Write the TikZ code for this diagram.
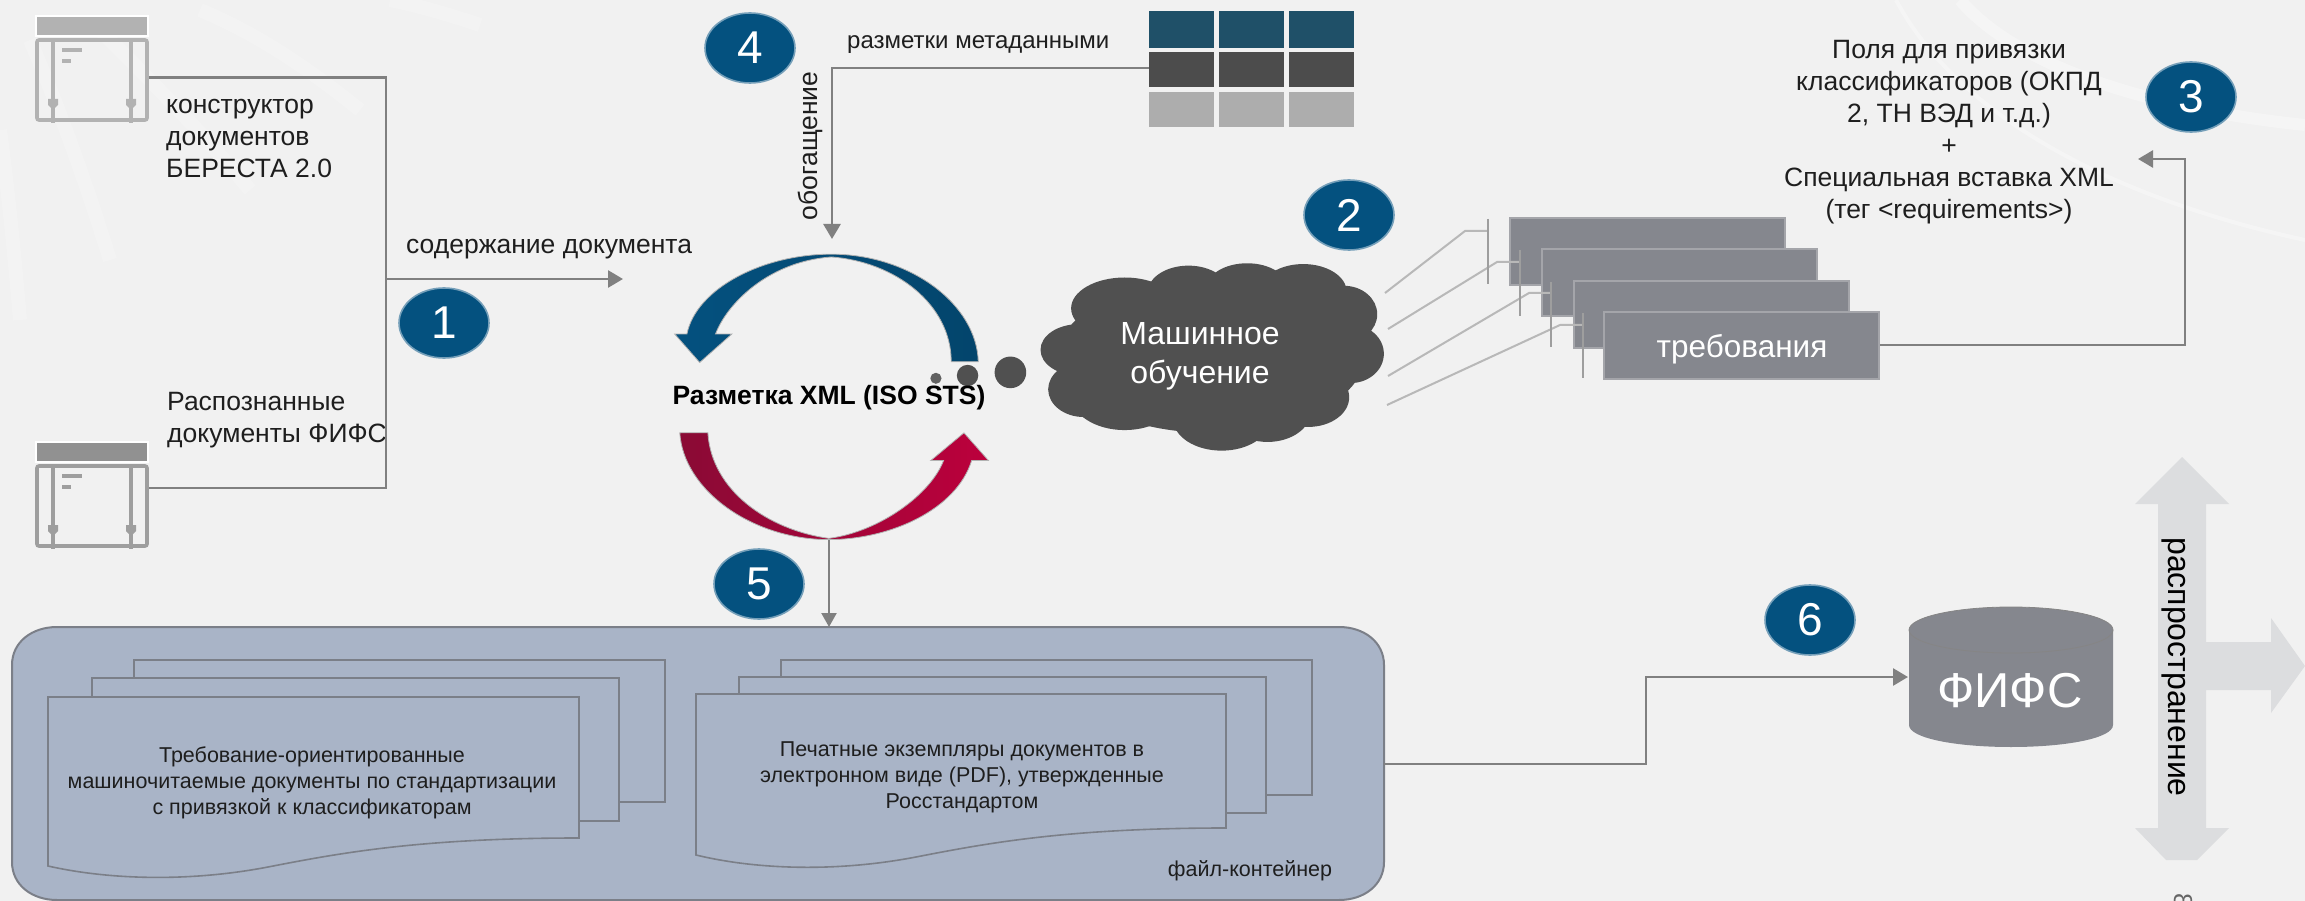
\documentclass[tikz,border=0pt]{standalone}
\usepackage{fontspec}
\setmainfont{Liberation Sans}
\usetikzlibrary{arrows.meta,shapes.geometric}
\definecolor{bgc}{HTML}{F1F1F1}
\definecolor{conn}{HTML}{808080}
\definecolor{badge}{HTML}{04517F}
\definecolor{cloudc}{HTML}{505050}
\definecolor{slate}{HTML}{85878E}
\definecolor{cont}{HTML}{A9B4C7}
\definecolor{contl}{HTML}{7B7F88}
\definecolor{pale}{HTML}{DCDDDF}
\definecolor{inkc}{HTML}{1E1E1E}
\tikzset{
 x=1pt,y=-1pt,
 connline/.style={draw=conn,line width=2.7pt,line join=miter},
 connarrow/.style={connline,-{Triangle[length=15pt,width=17pt]}},
 thinarrow/.style={draw=conn,line width=2.2pt,-{Triangle[length=14pt,width=15pt]}},
 badgenode/.style={ellipse,inner sep=0pt,minimum width=90pt,minimum height=70pt,fill=badge,draw=badge!55!white,line width=1.6pt,text=white,font=\fontsize{46}{50}\selectfont},
 lbl/.style={inner sep=0pt,text=inkc,font=\fontsize{26.5}{32}\selectfont},
 doclbl/.style={inner sep=0pt,text=inkc,align=center,font=\fontsize{21.5}{26}\selectfont},
 whitelbl/.style={inner sep=0pt,text=white,align=center},
 tcell/.style={inner sep=0pt,minimum width=65pt},
 slab/.style={inner sep=0pt,minimum width=275pt,minimum height=67pt,fill=slate,draw=slate!75!white,line width=2pt},
 iconhead/.style={inner sep=0pt,minimum width=112pt,minimum height=20pt,draw=white,line width=1.5pt},
 iconbody/.style={inner sep=0pt,minimum width=110pt,minimum height=80pt,draw,line width=3.6pt,rounded corners=2pt},
 docsheet/.style={fill=cont,draw=contl,line width=1.6pt},
 feeder/.style={draw=black!28,line width=2pt},
 tick/.style={draw=black!38,line width=1.6pt},
 faint/.style={draw=white,opacity=.16},
}
\begin{document}
\begin{tikzpicture}
\useasboundingbox (0,0) rectangle (2305,901);
\clip (0,0) rectangle (2305,901);
\fill[bgc] (0,0) rectangle (2305,901);
% faint background streaks
\draw[faint,line width=14pt] (20,320) .. controls (14,250) and (8,190) .. (0,130);
\draw[faint,line width=14pt] (110,260) .. controls (85,180) and (60,110) .. (30,40);
\draw[faint,line width=14pt] (250,190) .. controls (200,130) and (150,80) .. (100,30);
\draw[faint,line width=14pt] (360,110) .. controls (310,70) and (260,35) .. (200,10);
\draw[faint,line width=14pt] (480,25) .. controls (450,15) and (420,6) .. (390,0);
\draw[faint,line width=4pt,opacity=.3] (1896,0) .. controls (1960,120) and (2120,200) .. (2305,240);
\draw[faint,line width=12pt,opacity=.3] (1960,0) .. controls (2020,70) and (2160,110) .. (2305,125);

% source icons
\node[iconhead,fill=black!30] (h1) at (92,26) {};
\node[iconbody,draw=black!30] (icon1) at (92,80) {};
\node[iconhead,fill=black!43] (h2) at (92,452) {};
\node[iconbody,draw=black!38] (icon2) at (92,506) {};
\foreach \n/\c/\t in {icon1/black!30/103,icon2/black!38/529}{
  \begin{scope}[shift={(0,\t)}]
  \fill[\c] (51,-64) rectangle (55,20);
  \fill[\c] (129,-64) rectangle (133,20);
  \fill[\c] (48,-4) -- (58,-4) -- (58,2) -- (53,7) -- (48,2) -- cycle;
  \fill[\c] (126,-4) -- (136,-4) -- (136,2) -- (131,7) -- (126,2) -- cycle;
  \fill[\c] (62,-55) rectangle (82,-51);
  \fill[\c] (62,-44) rectangle (71,-40);
  \end{scope}
}
\node[lbl,anchor=west,align=left] (ctor) at (166,139) {конструктор\\документов\\БЕРЕСТА 2.0};
\node[lbl,anchor=west,align=left] (rec) at (167,420) {Распознанные\\документы ФИФС};
\node[lbl,anchor=west] (cont1) at (406,249) {содержание документа};
\coordinate (j1) at (386,77.5);
\coordinate (j2) at (386,488);
\coordinate (j3) at (386,279);
\coordinate (a1) at (623,279);
\draw[connline] (icon1.east |- j1) -- (j1) -- (j2) -- (icon2.east |- j2);
\draw[connarrow] (j3) -- (a1);
\node[badgenode] (b1) at (444,323) {1};

% metadata table
\foreach \r/\y/\h/\c in {1/29.5/37/1F5068,2/69.5/35/4C4C4C,3/109.5/35/ADADAD}{
  \definecolor{cellc}{HTML}{\c}
  \node[tcell,fill=cellc,minimum height=\h pt] (t\r1) at (1181.5,\y) {};
  \node[tcell,fill=cellc,minimum height=\h pt] (t\r2) at (1251.5,\y) {};
  \node[tcell,fill=cellc,minimum height=\h pt] (t\r3) at (1321,\y) {};
}
\node[lbl,anchor=west,font=\fontsize{24}{28}\selectfont] (meta) at (847,45) {разметки метаданными};
\coordinate (m1) at (832,68);
\coordinate (m2) at (832,239);
\draw[connarrow] (t21.west |- m1) -- (m1) -- (m2);
\node[lbl,rotate=90] (enrich) at (810,146) {обогащение};
\node[badgenode] (b4) at (750,48) {4};

% cycle arrows
\begin{scope}[shift={(640,0)},xscale=.5102,yscale=.3953]
\shade[left color=badge,middle color=black!15!badge!90!white,right color=badge!85!black,draw=black!30,line width=.8pt]
 (663,915) .. controls (660,770) and (530,643) .. (375,643) .. controls (240,643) and (110,730) .. (92,845)
 -- (68,845) -- (117,917) -- (180,845) -- (148,845) .. controls (170,770) and (250,662) .. (375,650)
 .. controls (500,662) and (610,770) .. (610,915) -- cycle;
\definecolor{redl}{HTML}{8A0A35}
\definecolor{redr}{HTML}{BC003C}
\shade[left color=redl,middle color=redl!85!black!70!white,right color=redr,draw=black!30,line width=.8pt]
 (78,1095) .. controls (85,1240) and (220,1365) .. (370,1365) .. controls (490,1365) and (620,1290) .. (650,1165)
 -- (683,1165) -- (635,1095) -- (570,1165) -- (595,1165) .. controls (570,1250) and (470,1345) .. (370,1362)
 .. controls (250,1340) and (140,1240) .. (133,1095) -- cycle;
% cloud
\fill[cloudc] (1120,900) ellipse [x radius=300,y radius=195];
\foreach \cx/\cy/\rx/\ry in {860/885/75/65,870/985/70/70,950/780/105/78,1075/740/80/68,1190/730/80/64,1300/738/85/70,1380/795/65/72,1393/895/65/74,1310/1005/80/75,1140/1060/95/80,950/1000/105/88,1230/1040/85/78}
  \fill[cloudc] (\cx,\cy) ellipse [x radius=\rx,y radius=\ry];
% thought dots
\fill[cloudc!90!white] (580,957) ellipse [x radius=11,y radius=14];
\fill[cloudc] (642,950) ellipse [x radius=21,y radius=27];
\fill[cloudc] (726,942) ellipse [x radius=31,y radius=40];
\end{scope}
\node[lbl,text=black,font=\fontsize{26.5}{30}\selectfont\bfseries] (xml) at (829,398) {Разметка XML (ISO STS)};
\node[whitelbl,font=\fontsize{32}{39}\selectfont] (ml) at (1200,356) {Машинное\\обучение};
\node[badgenode] (b2) at (1349,215) {2};

% requirement slabs
\coordinate (f1a) at (1385,293); \coordinate (f1b) at (1465,231); \coordinate (f1c) at (1488,231);
\coordinate (f2a) at (1388,329); \coordinate (f2b) at (1497,262); \coordinate (f2c) at (1520,262);
\coordinate (f3a) at (1388,376); \coordinate (f3b) at (1529,293); \coordinate (f3c) at (1551,293);
\coordinate (f4a) at (1387,405); \coordinate (f4b) at (1560,325); \coordinate (f4c) at (1583,325);
\node[slab] (s1) at (1647.5,251.5) {};
\node[slab] (s2) at (1679.5,282.5) {};
\node[slab] (s3) at (1711,314.5) {};
\node[slab] (s4) at (1741.5,345.5) {};
\foreach \i in {1,2,3,4} \draw[feeder] (f\i a) -- (f\i b) -- (f\i c);
\draw[tick] (1488,219) -- (1488,284);
\draw[tick] (1520,250) -- (1520,316);
\draw[tick] (1551,282) -- (1551,347);
\draw[tick] (1583,313) -- (1583,378);
\node[whitelbl,font=\fontsize{31.5}{36}\selectfont] (req) at (1742,349) {требования};
\node[lbl,align=center] (fields) at (1949,132) {Поля для привязки\\классификаторов (ОКПД\\2, ТН ВЭД и т.д.)\\+\\Специальная вставка XML\\(тег <requirements>)};
\coordinate (r1) at (2185,345);
\coordinate (r2) at (2185,159);
\coordinate (r3) at (2138,159);
\draw[connarrow] (s4.east |- r1) -- (r1) -- (r2) -- (r3);
\node[badgenode] (b3) at (2191,97) {3};

% file container
\draw[fill=cont,draw=contl,line width=2pt] (12,665) .. controls (12,642) and (32,627) .. (57,627) -- (1339,627)
  .. controls (1364,627) and (1384,642) .. (1384,665) -- (1384,862) .. controls (1384,885) and (1364,900) .. (1339,900)
  -- (57,900) .. controls (32,900) and (12,885) .. (12,862) -- cycle;
\coordinate (contT) at (829,627);
\coordinate (contE) at (1384,764);
\coordinate (cyc) at (829,540);
\draw[thinarrow] (cyc) -- (contT);
\node[badgenode] (b5) at (759,584) {5};
% left stack
\draw[docsheet] (134,660) rectangle (665,802);
\draw[docsheet] (92,678) rectangle (619,821);
\draw[docsheet] (48,697) -- (579,697) -- (579,838) .. controls (420,838) and (340,853) .. (268,867) .. controls (190,882) and (110,880) .. (48,866) -- cycle;
% right stack
\draw[docsheet] (781,660) rectangle (1312,795);
\draw[docsheet] (739,677) rectangle (1266,813);
\draw[docsheet] (696,694) -- (1226,694) -- (1226,828) .. controls (1068,828) and (988,843) .. (916,857) .. controls (838,872) and (758,870) .. (696,855) -- cycle;
\node[doclbl] (d1) at (312,783) {Требование-ориентированные\\машиночитаемые документы по стандартизации\\с привязкой к классификаторам};
\node[doclbl] (d2) at (962,777) {Печатные экземпляры документов в\\электронном виде (PDF), утвержденные\\Росстандартом};
\node[lbl,font=\fontsize{21.5}{24}\selectfont] (fc) at (1250,871) {файл-контейнер};

% distribution arrow
\fill[pale] (2182,457) -- (2229,504) -- (2206,504) -- (2206,642) -- (2271,642) -- (2271,618) -- (2305,666) -- (2271,713) -- (2271,690) -- (2206,690) -- (2206,828) -- (2229,828) -- (2197,860) -- (2166,860) -- (2135,828) -- (2158,828) -- (2158,504) -- (2135,504) -- cycle;
\node[lbl,rotate=-90,text=black,font=\fontsize{32}{36}\selectfont] (dist) at (2174,667) {распространение};

% storage
\coordinate (cylW) at (1908,677);
\fill[slate] (1909,630) -- (1909,725) .. controls (1909,738) and (1955,747) .. (2011,747) .. controls (2067,747) and (2113,738) .. (2113,725) -- (2113,630) -- cycle;
\draw[fill=slate,draw=black!48,line width=.8pt] (2011,630) ellipse [x radius=102,y radius=23];
\node[whitelbl,font=\fontsize{49}{52}\selectfont] (fifs) at (2010,691) {ФИФС};
\coordinate (o1) at (1646,764);
\coordinate (o2) at (1646,677);
\draw[connarrow] (contE) -- (o1) -- (o2) -- (cylW);
\node[badgenode] (b6) at (1810,620) {6};
\node[inner sep=0pt,rotate=-90,text=black!60,font=\fontsize{26}{30}\selectfont] (pg) at (2183,901) {8};
\end{tikzpicture}
\end{document}
